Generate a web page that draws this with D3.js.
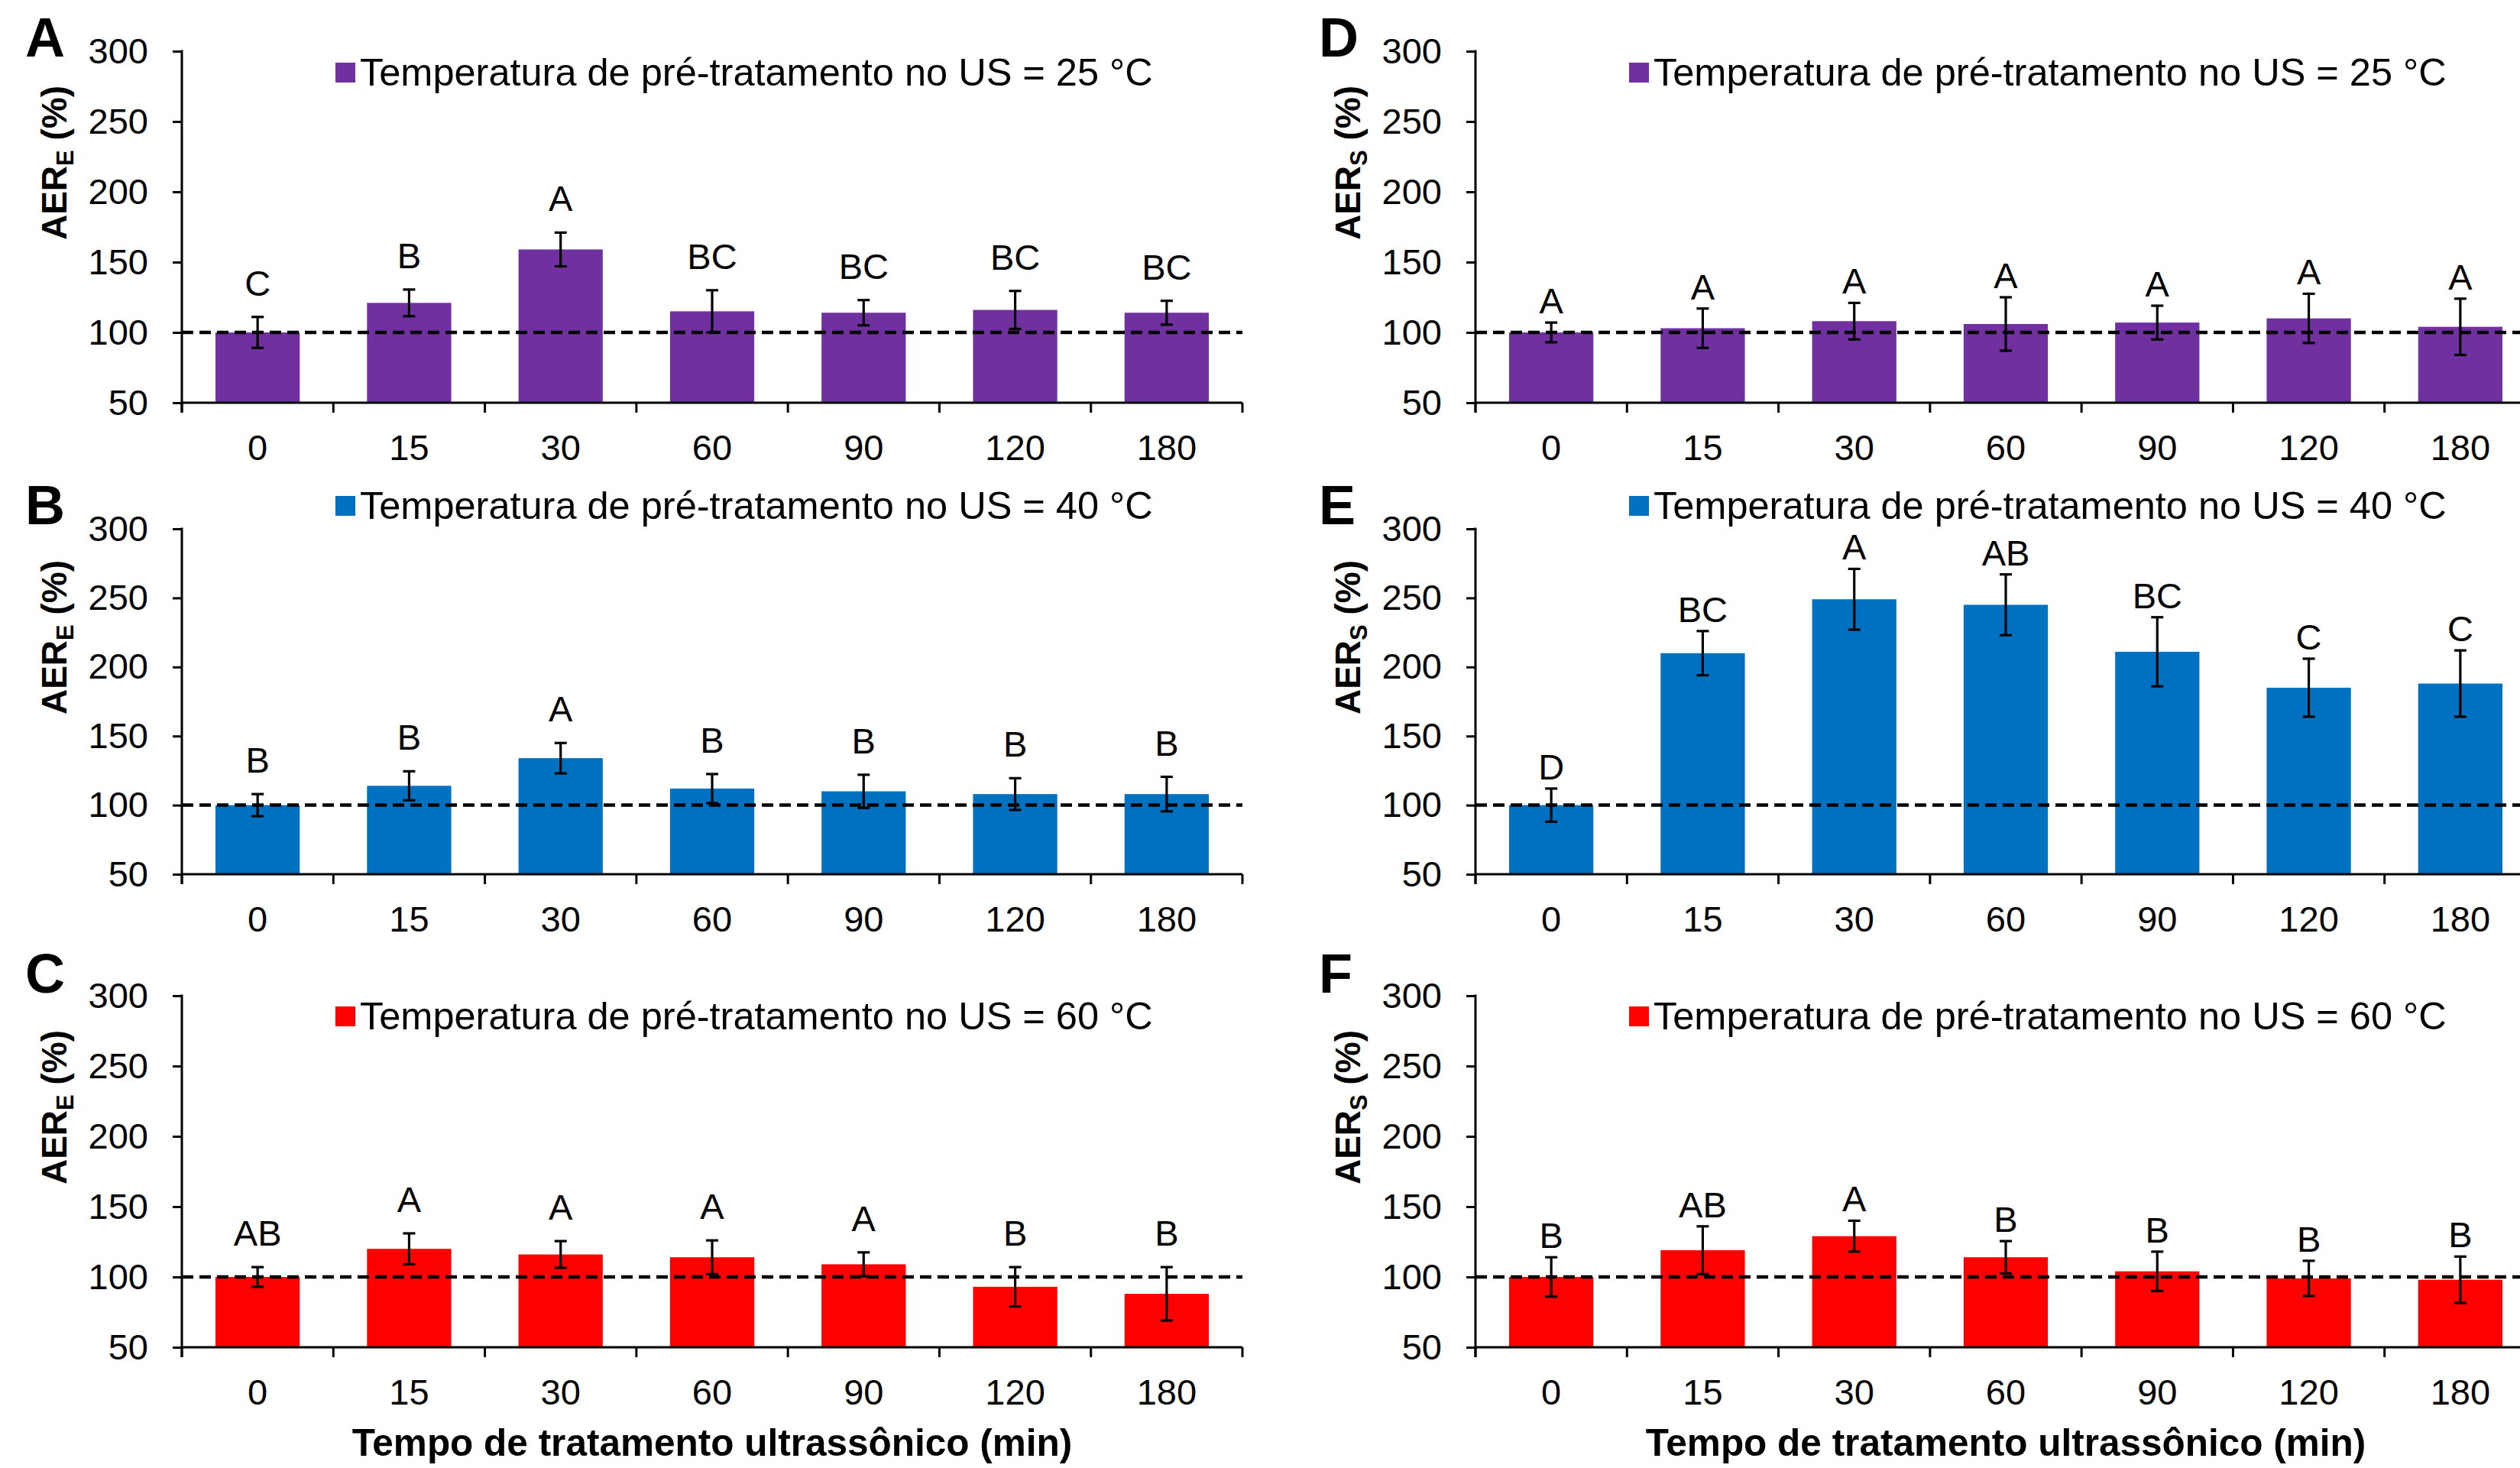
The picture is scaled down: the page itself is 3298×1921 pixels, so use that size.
<!DOCTYPE html>
<html>
<head>
<meta charset="utf-8">
<script src="https://cdn.jsdelivr.net/npm/d3@7"></script>
<style>
  html, body { margin: 0; padding: 0; background: #fff; }
</style>
</head>
<body>
<div id="chart"></div>
<script>
// ---- data ----
var categories = ["0", "15", "30", "60", "90", "120", "180"];
var yTicks = [50, 100, 150, 200, 250, 300];

var aerE25 = [100, 121, 159, 115, 114, 116, 114];
var aerE25Err = [11, 9.5, 12, 15, 9, 13.5, 8.5];
var aerE25Letters = ["C", "B", "A", "BC", "BC", "BC", "BC"];

var aerE40 = [100, 114, 134, 112, 110, 108, 108];
var aerE40Err = [8, 10.5, 11, 10.5, 12, 11.5, 12.5];
var aerE40Letters = ["B", "B", "A", "B", "B", "B", "B"];

var aerE60 = [100, 120, 116, 114, 109, 93, 88];
var aerE60Err = [7, 11, 9.5, 12, 8.5, 14, 19];
var aerE60Letters = ["AB", "A", "A", "A", "A", "B", "B"];

var aerS25 = [100, 103, 108, 106, 107, 110, 104];
var aerS25Err = [7, 14, 13, 19, 12, 17.5, 20];
var aerS25Letters = ["A", "A", "A", "A", "A", "A", "A"];

var aerS40 = [100, 210, 249, 245, 211, 185, 188];
var aerS40Err = [12, 16, 22, 22, 25, 21, 24];
var aerS40Letters = ["D", "BC", "A", "AB", "BC", "C", "C"];

var aerS60 = [100, 119, 129, 114, 104, 99, 98];
var aerS60Err = [14, 17, 11, 11.5, 14, 12.5, 16.5];
var aerS60Letters = ["B", "AB", "A", "B", "B", "B", "B"];

var legendTexts = [
  "Temperatura de pré-tratamento no US = 25 °C",
  "Temperatura de pré-tratamento no US = 40 °C",
  "Temperatura de pré-tratamento no US = 60 °C"
];
var xTitle = "Tempo de tratamento ultrassônico (min)";

// ---- layout ----
var FONT = "'Liberation Sans', Arial, Helvetica, sans-serif";
var W = 3298, H = 1921;
var plotWidth = 1388;
var colX = [238, 1931];
var letterGap = [28, 12];   // space between error bar top and the letter, per column
var rows = [
  { top: 67, bottom: 527, letterY: 74, legendY: 112, color: "#7030A0" },
  { top: 692, bottom: 1144, letterY: 686, legendY: 679, color: "#0070C0" },
  { top: 1303, bottom: 1763, letterY: 1299, legendY: 1347, color: "#FF0000" }
];

var svg = d3.select('#chart').append('svg')
  .attr('width', W)
  .attr('height', H)
  .style('background', '#fff');

var panels = [
  { col: 0, row: 0, tag: "A", sub: "E", means: aerE25, errs: aerE25Err, letters: aerE25Letters },
  { col: 0, row: 1, tag: "B", sub: "E", means: aerE40, errs: aerE40Err, letters: aerE40Letters },
  { col: 0, row: 2, tag: "C", sub: "E", means: aerE60, errs: aerE60Err, letters: aerE60Letters },
  { col: 1, row: 0, tag: "D", sub: "S", means: aerS25, errs: aerS25Err, letters: aerS25Letters },
  { col: 1, row: 1, tag: "E", sub: "S", means: aerS40, errs: aerS40Err, letters: aerS40Letters },
  { col: 1, row: 2, tag: "F", sub: "S", means: aerS60, errs: aerS60Err, letters: aerS60Letters }
];

panels.forEach(drawPanel);

function drawPanel (p) {
  var r = rows[p.row];
  var x0 = colX[p.col];
  var g = svg.append('g').attr('class', 'panel panel-' + p.tag);

  var x = d3.scaleBand()
    .domain(categories)
    .range([x0, x0 + plotWidth])
    .paddingInner(0.444)
    .paddingOuter(0.222);

  var y = d3.scaleLinear()
    .domain([50, 300])
    .range([r.bottom, r.top]);

  var data = categories.map(function (c, i) {
    return { cat: c, mean: p.means[i], err: p.errs[i], letter: p.letters[i] };
  });

  // bars
  g.selectAll('.bar')
    .data(data)
  .enter().append('rect')
    .attr('class', 'bar')
    .attr('x', function (d) { return x(d.cat); })
    .attr('y', function (d) { return y(d.mean); })
    .attr('width', x.bandwidth())
    .attr('height', function (d) { return y(50) - y(d.mean); })
    .attr('fill', r.color);

  // reference line at 100 %
  g.append('line')
    .attr('x1', x0)
    .attr('x2', x0 + plotWidth)
    .attr('y1', y(100))
    .attr('y2', y(100))
    .attr('stroke', '#000')
    .attr('stroke-width', 4.5)
    .attr('stroke-dasharray', '15,8');

  // error bars
  var eb = g.selectAll('.err')
    .data(data)
  .enter().append('g')
    .attr('class', 'err')
    .attr('stroke', '#000')
    .attr('stroke-width', 3.2);

  eb.append('line')
    .attr('x1', function (d) { return x(d.cat) + x.bandwidth() / 2; })
    .attr('x2', function (d) { return x(d.cat) + x.bandwidth() / 2; })
    .attr('y1', function (d) { return y(d.mean + d.err); })
    .attr('y2', function (d) { return y(d.mean - d.err); });

  [1, -1].forEach(function (s) {
    eb.append('line')
      .attr('x1', function (d) { return x(d.cat) + x.bandwidth() / 2 - 8; })
      .attr('x2', function (d) { return x(d.cat) + x.bandwidth() / 2 + 8; })
      .attr('y1', function (d) { return y(d.mean + s * d.err); })
      .attr('y2', function (d) { return y(d.mean + s * d.err); });
  });

  // significance letters
  g.selectAll('.sig')
    .data(data)
  .enter().append('text')
    .attr('class', 'sig')
    .attr('x', function (d) { return x(d.cat) + x.bandwidth() / 2; })
    .attr('y', function (d) { return y(d.mean + d.err) - letterGap[p.col]; })
    .attr('text-anchor', 'middle')
    .attr('font-family', FONT)
    .attr('font-size', 47)
    .attr('fill', '#000')
    .text(function (d) { return d.letter; });

  // y axis
  var ya = g.append('g')
    .attr('transform', 'translate(' + x0 + ',0)')
    .call(d3.axisLeft(y).tickValues(yTicks).tickSize(12).tickSizeOuter(0).tickPadding(32));
  ya.select('.domain').remove();
  ya.selectAll('line').attr('stroke', '#000').attr('stroke-width', 3);
  ya.selectAll('text')
    .attr('font-family', FONT)
    .attr('font-size', 47)
    .attr('fill', '#000');

  g.append('line')
    .attr('x1', x0).attr('x2', x0)
    .attr('y1', y(300) - 1.5)
    .attr('y2', y(50) + 13)
    .attr('stroke', '#000')
    .attr('stroke-width', 3);

  // x axis: labels centred on bands, ticks on band edges
  var xa = g.append('g')
    .attr('transform', 'translate(0,' + y(50) + ')')
    .call(d3.axisBottom(x).tickSize(0).tickPadding(42));
  xa.select('.domain').remove();
  xa.selectAll('text')
    .attr('font-family', FONT)
    .attr('font-size', 47)
    .attr('fill', '#000');

  g.append('line')
    .attr('x1', x0).attr('x2', x0 + plotWidth)
    .attr('y1', y(50)).attr('y2', y(50))
    .attr('stroke', '#000')
    .attr('stroke-width', 3);

  g.selectAll('.xedge')
    .data(d3.range(categories.length + 1))
  .enter().append('line')
    .attr('class', 'xedge')
    .attr('x1', function (i) { return x.range()[0] + i * x.step(); })
    .attr('x2', function (i) { return x.range()[0] + i * x.step(); })
    .attr('y1', y(50))
    .attr('y2', y(50) + 13)
    .attr('stroke', '#000')
    .attr('stroke-width', 3);

  // legend
  var lg = g.append('g').attr('class', 'legend');
  lg.append('rect')
    .attr('x', x0 + 201)
    .attr('y', r.legendY - 30)
    .attr('width', 26)
    .attr('height', 26)
    .attr('fill', r.color);
  lg.append('text')
    .attr('x', x0 + 233)
    .attr('y', r.legendY)
    .attr('font-family', FONT)
    .attr('font-size', 50.5)
    .attr('fill', '#000')
    .text(legendTexts[p.row]);

  // panel letter
  g.append('text')
    .attr('x', x0 - 205)
    .attr('y', r.letterY)
    .attr('font-family', FONT)
    .attr('font-weight', 'bold')
    .attr('font-size', 72)
    .attr('fill', '#000')
    .text(p.tag);

  // y axis title
  var yl = g.append('text')
    .attr('transform', 'translate(' + (x0 - 151) + ',' + ((r.top + r.bottom) / 2 - 84) + ') rotate(-90)')
    .attr('text-anchor', 'middle')
    .attr('font-family', FONT)
    .attr('font-weight', 'bold')
    .attr('font-size', 46)
    .attr('fill', '#000');
  yl.append('tspan').text('AER');
  yl.append('tspan').attr('dy', 9).attr('font-size', 31).text(p.sub);
  yl.append('tspan').attr('dy', -9).text(' (%)');

  // x axis title, bottom row only
  if (p.row === 2) {
    g.append('text')
      .attr('x', x0 + plotWidth / 2)
      .attr('y', 1905)
      .attr('text-anchor', 'middle')
      .attr('font-family', FONT)
      .attr('font-weight', 'bold')
      .attr('font-size', 49.5)
      .attr('fill', '#000')
      .text(xTitle);
  }
}
</script>
</body>
</html>
